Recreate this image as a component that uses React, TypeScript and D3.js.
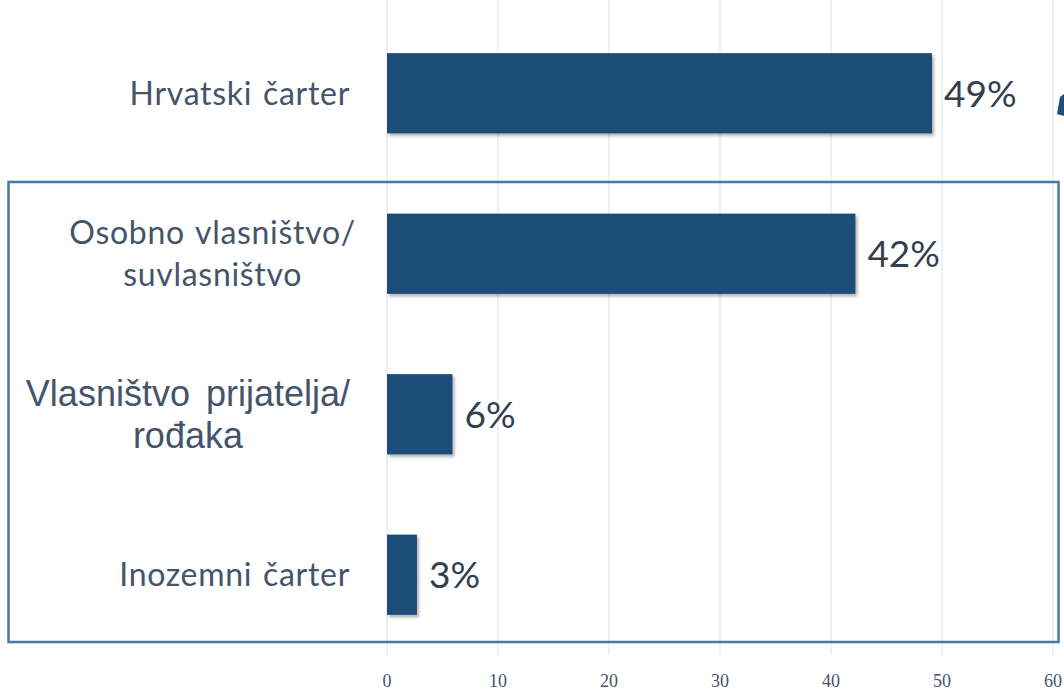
import React, { useEffect, useRef } from "react";
import * as d3 from "d3";

const categories = ["Hrvatski čarter", "Osobno vlasništvo/ suvlasništvo", "Vlasništvo prijatelja/ rođaka", "Inozemni čarter"];
const labelLines = [["Hrvatski čarter"], ["Osobno vlasništvo/", "suvlasništvo"], ["Vlasništvo prijatelja/", "rođaka"], ["Inozemni čarter"]];
const values = [49.1, 42.2, 5.9, 2.7];
const valueLabels = ["49%", "42%", "6%", "3%"];
const ticks = [0, 10, 20, 30, 40, 50, 60];
const labelFonts = ["Lato", "Lato", "'Liberation Sans', Arial", "Lato"];

const W = 1064, H = 690;

export default function App() {
  const ref = useRef<SVGSVGElement>(null);

  useEffect(() => {
    const svg = d3.select(ref.current);
    svg.selectAll("*").remove();

    const x = d3.scaleLinear().domain([0, 60]).range([387, 1053]);
    const y = d3.scaleBand<string>().domain(categories).range([13, 655]).paddingInner(0.5).paddingOuter(0.25);

    const defs = svg.append("defs");
    const f = defs.append("filter").attr("id", "sh").attr("x", "-10%").attr("y", "-10%").attr("width", "130%").attr("height", "130%");
    f.append("feDropShadow").attr("dx", 2).attr("dy", 2.5).attr("stdDeviation", 1.8).attr("flood-color", "#000").attr("flood-opacity", 0.3);

    svg.append("rect").attr("width", W).attr("height", H).attr("fill", "#fff");

    // gridlines
    svg.append("g").selectAll("line").data(ticks).join("line")
      .attr("x1", d => x(d)).attr("x2", d => x(d))
      .attr("y1", 0).attr("y2", 655)
      .attr("stroke", "#dde1e8").attr("stroke-width", 1);

    // tick labels
    svg.append("g").selectAll("text").data(ticks).join("text")
      .attr("x", d => x(d)).attr("y", 687)
      .attr("text-anchor", "middle")
      .attr("font-family", "'Liberation Serif', serif")
      .attr("font-size", 18)
      .attr("fill", "#44546a")
      .text(d => String(d));

    // highlight box
    svg.append("rect").attr("x", 8.5).attr("y", 182).attr("width", 1050).attr("height", 460)
      .attr("fill", "none").attr("stroke", "#4a76a8").attr("stroke-width", 2.5);

    // bars
    svg.append("g").selectAll("rect").data(values).join("rect")
      .attr("x", x(0))
      .attr("y", (d, i) => y(categories[i])!)
      .attr("width", d => x(d) - x(0))
      .attr("height", y.bandwidth())
      .attr("fill", "#1f4e79")
      .attr("filter", "url(#sh)");

    // value labels
    svg.append("g").selectAll("text").data(values).join("text")
      .attr("x", d => x(d) + 12)
      .attr("y", (d, i) => y(categories[i])! + y.bandwidth() / 2)
      .attr("dy", "0.36em")
      .attr("font-family", "Lato, sans-serif")
      .attr("font-size", 37)
      .attr("fill", "#333f50")
      .text((d, i) => valueLabels[i]);

    // category labels
    labelLines.forEach((lines, i) => {
      const cy = y(categories[i])! + y.bandwidth() / 2;
      const isArial = i === 2;
      const fs = isArial ? 36 : 32;
      const right = i === 1 ? 356 : 350;
      const lh = 42;
      const g = svg.append("g");
      const texts = lines.map((ln, j) =>
        g.append("text")
          .attr("y", cy + (j - (lines.length - 1) / 2) * lh)
          .attr("dy", "0.36em")
          .attr("font-family", labelFonts[i])
          .attr("font-size", fs)
          .attr("letter-spacing", isArial ? 0 : 0.7)
          .attr("word-spacing", isArial ? 6 : 2)
          .attr("fill", "#44546a")
          .text(ln)
      );
      const wmax = d3.max(texts, t => (t.node() as SVGTextElement).getComputedTextLength()) || 0;
      texts.forEach(t => t.attr("x", right - wmax / 2).attr("text-anchor", "middle"));
    });

    // partial arrow decoration at right edge
    svg.append("path")
      .attr("d", "M1057,114 L1060,97 L1064,94 L1064,116 Z")
      .attr("fill", "#1f4e79");
  }, []);

  return <svg ref={ref} width={W} height={H} style={{ position: "absolute", left: 0, top: 0, display: "block" }} />;
}
